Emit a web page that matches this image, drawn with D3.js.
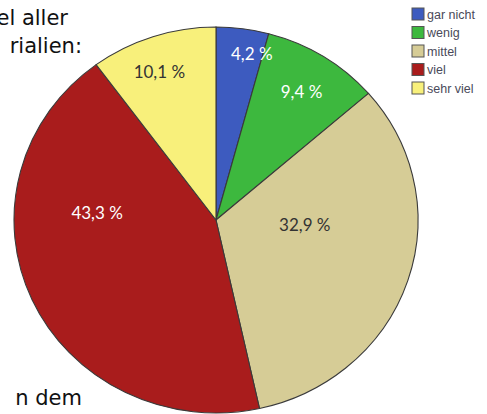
<!DOCTYPE html>
<html>
<head>
<meta charset="utf-8">
<script src="https://cdn.jsdelivr.net/npm/d3@7"></script>
<style>
  html, body { margin: 0; padding: 0; background: #fff; }
  svg { display: block; }
</style>
</head>
<body>
<svg id="chart" width="487" height="414"></svg>
<script>
// Answer categories and their shares (percent)
const categories = ["gar nicht", "wenig", "mittel", "viel", "sehr viel"];
const shares = [4.2, 9.4, 32.9, 43.3, 10.1];
const valueLabels = ["4,2 %", "9,4 %", "32,9 %", "43,3 %", "10,1 %"];
const sliceColors = ["#3d5bbf", "#3db83e", "#d6cc96", "#a91c1c", "#f8f07b"];
const labelInk = ["#ffffff", "#ffffff", "#333333", "#ffffff", "#333333"];

// Surrounding text fragments
const textLines = [
  { text: "el aller", x: 68, y: 25 },
  { text: "rialien:", x: 82, y: 53 },
  { text: "n dem", x: 82, y: 405 }
];

// Label placement: angle (deg, clockwise from top) and radius fraction
const labelPlacement = [
  { angle: 11.6, r: 0.88 },
  { angle: 32.4, r: 0.79 },
  { angle: 93, r: 0.44 },
  { angle: 274, r: 0.59 },
  { angle: 340, r: 0.82 }
];

const svg = d3.select("#chart");
const cx = 216, cy = 220, rx = 202, ry = 193;

const pie = d3.pie().sort(null).value(d => d);
const arcs = pie(shares);
const arc = d3.arc().innerRadius(0).outerRadius(ry);

// Pie, slightly wider than tall
const pieG = svg.append("g")
  .attr("transform", `translate(${cx},${cy}) scale(${rx / ry},1)`);

pieG.selectAll("path")
  .data(arcs)
  .join("path")
  .attr("d", arc)
  .attr("fill", (d, i) => sliceColors[i])
  .attr("stroke", "#3a3a3a")
  .attr("stroke-width", 1.1)
  .attr("vector-effect", "non-scaling-stroke");

// Value labels
svg.append("g")
  .selectAll("text")
  .data(arcs)
  .join("text")
  .attr("x", (d, i) => cx + rx * labelPlacement[i].r * Math.sin(labelPlacement[i].angle * Math.PI / 180))
  .attr("y", (d, i) => cy - ry * labelPlacement[i].r * Math.cos(labelPlacement[i].angle * Math.PI / 180))
  .attr("text-anchor", "middle")
  .attr("dominant-baseline", "central")
  .attr("font-family", "Lato, 'Open Sans', sans-serif")
  .attr("font-size", 17)
  .attr("fill", (d, i) => labelInk[i])
  .text((d, i) => valueLabels[i]);

// Legend
const legend = svg.append("g").attr("transform", "translate(412,8)");
const rowStep = 18.5;
const rows = legend.selectAll("g")
  .data(categories)
  .join("g")
  .attr("transform", (d, i) => `translate(0,${i * rowStep})`);
rows.append("rect")
  .attr("width", 12).attr("height", 12)
  .attr("fill", (d, i) => sliceColors[i])
  .attr("stroke", "#555").attr("stroke-width", 1);
rows.append("text")
  .attr("x", 15).attr("y", 10.5)
  .attr("font-family", "'Liberation Sans', Arial, sans-serif")
  .attr("font-size", 12.5)
  .attr("fill", "#4a4a5a")
  .text(d => d);

// Text fragments around the chart
svg.append("g")
  .selectAll("text")
  .data(textLines)
  .join("text")
  .attr("x", d => d.x)
  .attr("y", d => d.y)
  .attr("text-anchor", "end")
  .attr("font-family", "'DejaVu Sans', Verdana, sans-serif")
  .attr("font-size", 21)
  .attr("fill", "#111")
  .text(d => d.text);
</script>
</body>
</html>
